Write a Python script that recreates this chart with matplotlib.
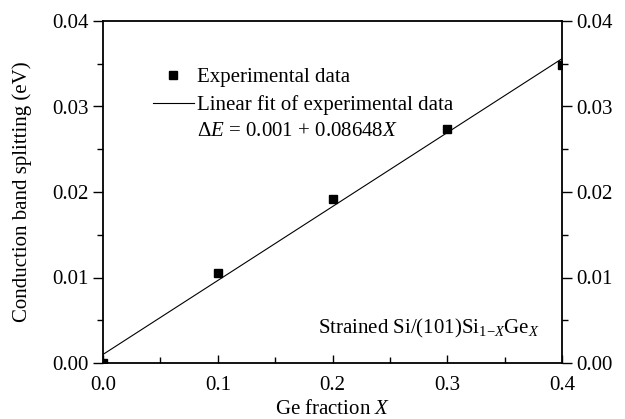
import matplotlib.pyplot as plt
import numpy as np

plt.rcParams['font.family'] = ['Liberation Serif', 'DejaVu Serif']
plt.rcParams['mathtext.fontset'] = 'custom'
plt.rcParams['mathtext.rm'] = 'Liberation Serif'
plt.rcParams['mathtext.it'] = 'Liberation Serif:italic'

# experimental data
ge_frac = [0.0, 0.1, 0.2, 0.3, 0.4]
splitting = [0.0, 0.0105, 0.0192, 0.0274, 0.0348]

# linear fit  dE = a + b X
fit_a = 0.001
fit_b = 0.08648
fit_x = [0.0, 0.4]

fig = plt.figure(figsize=(6.25, 4.19), dpi=100)
ax = fig.add_axes([103 / 625, 1 - 363 / 419, 459 / 625, 342 / 419])

ax.plot(ge_frac, splitting, 's', color='black', ms=5.5, clip_on=True,
        label='Experimental data')
ax.plot(fit_x, [fit_a + fit_b * x for x in fit_x], '-', color='black', lw=0.8,
        label='Linear fit of experimental data')

ax.set_xlim(0, 0.4)
ax.set_ylim(0, 0.04)
ax.set_xticks([0.0, 0.1, 0.2, 0.3, 0.4])
ax.set_xticks(np.arange(0.05, 0.4, 0.1), minor=True)
ax.set_yticks([0.0, 0.01, 0.02, 0.03, 0.04])
ax.set_yticks(np.arange(0.005, 0.04, 0.01), minor=True)
ax.xaxis.set_major_formatter(plt.FormatStrFormatter('%.1f'))
ax.yaxis.set_major_formatter(plt.FormatStrFormatter('%.2f'))

ax.tick_params(axis='x', which='both', direction='in', top=False, labelsize=15, pad=9)
ax.tick_params(axis='x', which='major', length=6, width=1)
ax.tick_params(axis='x', which='minor', length=4, width=1)
ax.tick_params(axis='y', which='both', direction='out', left=True, right=True,
               labelleft=True, labelright=True, labelsize=15)
ax.tick_params(axis='y', which='major', length=7, width=1)
ax.tick_params(axis='y', which='minor', length=4, width=1)
for lab in ax.get_xticklabels() + ax.get_yticklabels():
    lab.set_fontfamily('Liberation Serif')
for s in ax.spines.values():
    s.set_linewidth(1.3)

ax.set_xlabel('Ge fraction $X$', fontsize=15, labelpad=4)
ax.set_ylabel('Conduction band splitting (eV)', fontsize=15, labelpad=14)

leg = ax.legend(loc='upper left', bbox_to_anchor=(0.09, 0.888), frameon=False,
                fontsize=15, handlelength=2.0, handletextpad=0.15,
                labelspacing=0.4, borderaxespad=0)
ax.text(0.205, 0.678, r'$\Delta E$ = 0.001 + 0.08648$X$', transform=ax.transAxes,
        fontsize=15, va='center', ha='left')
ax.text(0.952, 0.1, r'Strained Si/(101)Si$_{1\mathrm{-}X}$Ge$_X$', transform=ax.transAxes,
        fontsize=15, va='center', ha='right')

fig.savefig('out.png', dpi=100)
